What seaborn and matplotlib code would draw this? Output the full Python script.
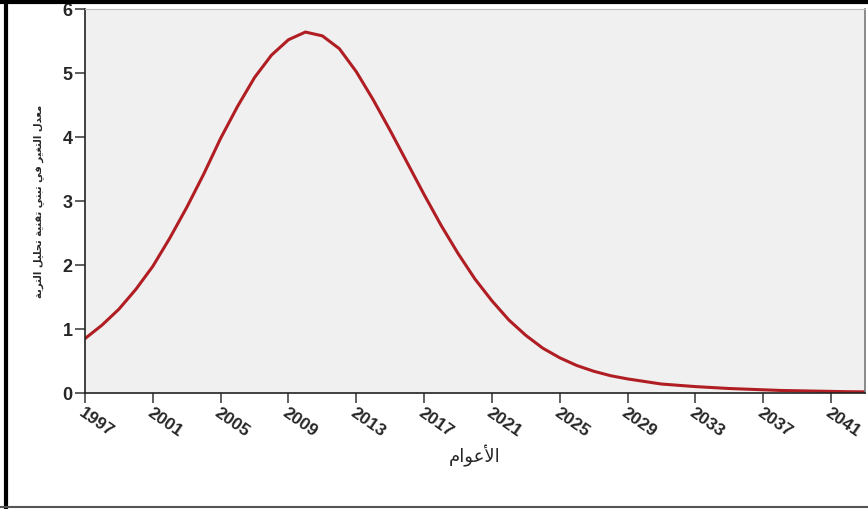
import matplotlib
matplotlib.use("Agg")
import matplotlib.pyplot as plt
from matplotlib.lines import Line2D
import seaborn as sns

# data (one point per year)
years = list(range(1997, 2044))
rates = [0.85, 1.06, 1.31, 1.62, 1.98, 2.42, 2.90, 3.42, 3.98, 4.48,
         4.93, 5.28, 5.52, 5.64, 5.58, 5.38, 5.02, 4.58, 4.10, 3.60,
         3.10, 2.62, 2.18, 1.78, 1.44, 1.14, 0.90, 0.70, 0.55, 0.43,
         0.34, 0.27, 0.22, 0.18, 0.14, 0.12, 0.10, 0.085, 0.07, 0.06,
         0.05, 0.04, 0.035, 0.03, 0.025, 0.02, 0.018]
x_ticks = list(range(1997, 2042, 4))
y_ticks = [0, 1, 2, 3, 4, 5, 6]
x_title = "الأعوام"
y_title = "معدل التغير في تبني تقنية تحليل التربة"

# minimal arabic shaping (presentation forms) since matplotlib has no RTL support
FORMS = {
    'ا': ('\uFE8D', '\uFE8E'), 'أ': ('\uFE83', '\uFE84'),
    'د': ('\uFEA9', '\uFEAA'), 'ر': ('\uFEAD', '\uFEAE'),
    'و': ('\uFEED', '\uFEEE'), 'ة': ('\uFE93', '\uFE94'),
    'ب': ('\uFE8F', '\uFE90', '\uFE91', '\uFE92'),
    'ت': ('\uFE95', '\uFE96', '\uFE97', '\uFE98'),
    'ح': ('\uFEA1', '\uFEA2', '\uFEA3', '\uFEA4'),
    'ع': ('\uFEC9', '\uFECA', '\uFECB', '\uFECC'),
    'غ': ('\uFECD', '\uFECE', '\uFECF', '\uFED0'),
    'ف': ('\uFED1', '\uFED2', '\uFED3', '\uFED4'),
    'ق': ('\uFED5', '\uFED6', '\uFED7', '\uFED8'),
    'ل': ('\uFEDD', '\uFEDE', '\uFEDF', '\uFEE0'),
    'م': ('\uFEE1', '\uFEE2', '\uFEE3', '\uFEE4'),
    'ن': ('\uFEE5', '\uFEE6', '\uFEE7', '\uFEE8'),
    'ي': ('\uFEF1', '\uFEF2', '\uFEF3', '\uFEF4'),
}
LAM_ALEF = {'ا': ('\uFEFB', '\uFEFC'), 'أ': ('\uFEF7', '\uFEF8')}


def shape(text):
    words = []
    for word in text.split(' '):
        out = []
        i = 0
        while i < len(word):
            c = word[i]
            prev = i > 0 and len(FORMS.get(word[i - 1], ())) == 4
            if c == 'ل' and i + 1 < len(word) and word[i + 1] in LAM_ALEF:
                iso, fin = LAM_ALEF[word[i + 1]]
                out.append(fin if prev else iso)
                i += 2
                continue
            f = FORMS[c]
            nxt = len(f) == 4 and i + 1 < len(word)
            if prev and nxt:
                out.append(f[3])
            elif prev:
                out.append(f[1])
            elif nxt:
                out.append(f[2])
            else:
                out.append(f[0])
            i += 1
        words.append(''.join(reversed(out)))
    return ' '.join(reversed(words))


sns.set_style("ticks", {"axes.facecolor": "#f0f0f0"})
plt.rcParams['font.family'] = ['Liberation Sans', 'DejaVu Sans']

fig = plt.figure(figsize=(8.68, 5.09), dpi=100)
ax = fig.add_axes([85 / 868, 1 - 393 / 509, 780 / 868, 384 / 509])

sns.lineplot(x=years, y=rates, ax=ax, color="#b01e23", linewidth=2.2)

ax.set_xlim(1997, 2043)
ax.set_ylim(0, 6)
ax.set_xticks(x_ticks)
ax.set_yticks(y_ticks)
ax.set_xticklabels([str(t) for t in x_ticks], rotation=-35, ha='left', va='top',
                   rotation_mode='anchor', fontsize=12.5, fontweight='bold')
ax.set_yticklabels([str(t) for t in y_ticks], fontsize=13, fontweight='bold')
ax.tick_params(axis='both', direction='out', length=7, width=1.2, color='#444444', pad=2)

for s in ['left', 'bottom']:
    ax.spines[s].set_color('#222222')
    ax.spines[s].set_linewidth(1.2)
ax.spines['top'].set_color('#bbbbbb')
ax.spines['right'].set_color('#777777')
ax.spines['right'].set_linewidth(1.2)

ax.set_xlabel(shape(x_title), fontsize=13, family=['DejaVu Sans'])
ax.xaxis.set_label_coords(0.5, -0.135)
ax.set_ylabel(shape(y_title), fontsize=7.2, fontweight='bold', family=['DejaVu Sans'])
ax.yaxis.set_label_coords(-0.052, 0.5)

# outer frame of the screenshot
fig.add_artist(Line2D([0, 1], [0.997, 0.997], transform=fig.transFigure, color='black', linewidth=3))
fig.add_artist(Line2D([6 / 868, 6 / 868], [0, 1], transform=fig.transFigure, color='black', linewidth=3))
fig.add_artist(Line2D([0, 1], [2 / 509, 2 / 509], transform=fig.transFigure, color='#555555', linewidth=1.5))

fig.savefig("out.png", dpi=100)
